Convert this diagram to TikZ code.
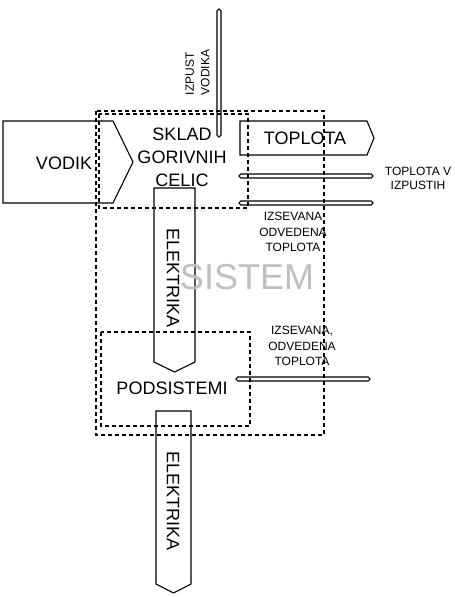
\documentclass[tikz,border=0pt]{standalone}
\usepackage{fontspec}
\setmainfont{Liberation Sans}
\usepackage{tikz}
\usetikzlibrary{positioning}

\begin{document}
\begin{tikzpicture}[x=1pt, y=-1pt,
  flow/.style={draw=black, line width=1.1pt, line join=miter},
  bar/.style={draw=black, line width=1.1pt, rounded corners=1.8pt},
  sysbox/.style={draw=black, line width=1.1pt, dash pattern=on 4pt off 3pt},
  big/.style={inner sep=0pt, font=\fontsize{18}{23}\selectfont, align=center},
  small/.style={inner sep=0pt, font=\fontsize{12}{15.5}\selectfont, align=center}
]
  \useasboundingbox (0,0) rectangle (455,597);

  \draw[flow] (3,121) -- (113,121) -- (133,162) -- (113,203) -- (3,203) -- cycle;
  \draw[flow] (240,121) -- (367,121) -- (374,138) -- (367,155) -- (240,155) -- cycle;
  \draw[flow] (154,188) -- (195,188) -- (195,362) -- (174.5,372) -- (154,362) -- cycle;
  \draw[flow] (156,411) -- (191,411) -- (191,584) -- (173.5,593) -- (156,584) -- cycle;

  \draw[bar] (217,9) rectangle (221,137);
  \draw[bar] (239,174) rectangle (373,178);
  \draw[bar] (239,201) rectangle (373,205);
  \draw[bar] (236,377) rectangle (370,381);

  \draw[sysbox] (96,111) rectangle (324,435);
  \draw[sysbox] (99,114) rectangle (248,208);
  \draw[sysbox] (101,332) rectangle (250,426);

  \node[big] (vodik) at (64,163) {VODIK};
  \node[big] (sklad) at (182,157) {SKLAD\\GORIVNIH\\CELIC};
  \node[big] (toplota) at (305,138) {TOPLOTA};
  \node[small, font=\fontsize{12}{14}\selectfont] (izpusti) at (418,178) {TOPLOTA V\\IZPUSTIH};
  \node[small, align=left, rotate=90] (izpust) at (197.5,72.5) {IZPUST\\VODIKA};
  \node[small] (sevanje1) at (293,232) {IZSEVANA\\ODVEDENA\\TOPLOTA};
  \node[small] (sevanje2) at (302,346) {IZSEVANA,\\ODVEDENA\\TOPLOTA};
  \node[inner sep=0pt, font=\fontsize{36}{40}\selectfont, text=black!25] (sistem) at (247,277) {SISTEM};
  \node[big, rotate=-90] (elektrika1) at (173,278) {ELEKTRIKA};
  \node[big] (podsistemi) at (172,388) {PODSISTEMI};
  \node[big, rotate=-90] (elektrika2) at (173,501) {ELEKTRIKA};
\end{tikzpicture}
\end{document}
